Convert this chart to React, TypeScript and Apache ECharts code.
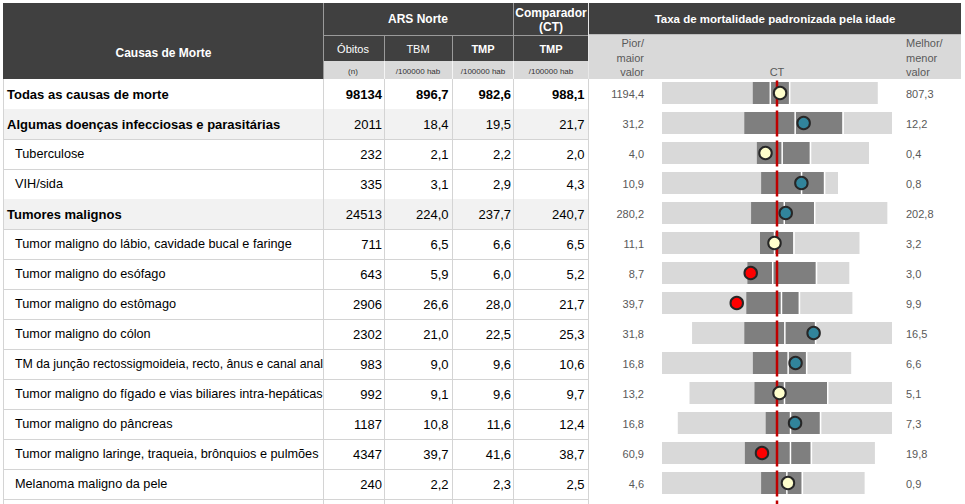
import React, { useEffect, useRef } from "react";
import * as echarts from "echarts";

// ---------- data ----------
const causes = [
  "Todas as causas de morte",
  "Algumas doenças infecciosas e parasitárias",
  "Tuberculose",
  "VIH/sida",
  "Tumores malignos",
  "Tumor maligno do lábio, cavidade bucal e faringe",
  "Tumor maligno do esófago",
  "Tumor maligno do estômago",
  "Tumor maligno do cólon",
  "TM da junção rectossigmoideia, recto, ânus e canal anal",
  "Tumor maligno do fígado e vias biliares intra-hepáticas",
  "Tumor maligno do pâncreas",
  "Tumor maligno laringe, traqueia, brônquios e pulmões",
  "Melanoma maligno da pele",
];
// 0 = total, 1 = group, 2 = sub-cause
const levels = [0, 1, 2, 2, 1, 2, 2, 2, 2, 2, 2, 2, 2, 2];
const deaths = [98134, 2011, 232, 335, 24513, 711, 643, 2906, 2302, 983, 992, 1187, 4347, 240];
const tbm = [896.7, 18.4, 2.1, 3.1, 224.0, 6.5, 5.9, 26.6, 21.0, 9.0, 9.1, 10.8, 39.7, 2.2];
const tmp = [982.6, 19.5, 2.2, 2.9, 237.7, 6.6, 6.0, 28.0, 22.5, 9.6, 9.6, 11.6, 41.6, 2.3];
const tmpCT = [988.1, 21.7, 2.0, 4.3, 240.7, 6.5, 5.2, 21.7, 25.3, 10.6, 9.7, 12.4, 38.7, 2.5];
const worst = [1194.4, 31.2, 4.0, 10.9, 280.2, 11.1, 8.7, 39.7, 31.8, 16.8, 13.2, 16.8, 60.9, 4.6];
const best = [807.3, 12.2, 0.4, 0.8, 202.8, 3.2, 3.0, 9.9, 16.5, 6.6, 5.1, 7.3, 19.8, 0.9];
const q25 = [1031.5, 24.4, 2.35, 5.21, 249.6, 7.18, 6.1, 26.5, 27.8, 11.9, 10.6, 12.9, 44.9, 2.79];
const median = [1000.1, 20.2, 1.91, 2.89, 238.2, 6.6, 5.33, 21.0, 24.7, 10.0, 9.4, 11.8, 36.1, 2.32];
const q75 = [966.7, 16.3, 1.43, 1.61, 228.0, 5.85, 4.02, 18.3, 22.4, 9.04, 7.7, 10.5, 32.2, 2.05];
// "=" no difference, "+" better, "-" worse
const significance = ["=", "+", "=", "+", "+", "=", "-", "-", "+", "+", "=", "+", "-", "="];

const sigColors: Record<string, string> = { "=": "#ffffcc", "+": "#31849b", "-": "#ff0000" };

const FONT = '"Liberation Sans", Arial, Helvetica, sans-serif';
const fmt1 = (v: number) => v.toFixed(1).replace(".", ",");
const NROWS = causes.length;

function norm(i: number, v: number) {
  const s = Math.max(worst[i] - tmpCT[i], tmpCT[i] - best[i]);
  return (tmpCT[i] - v) / s;
}

let measureCtx: CanvasRenderingContext2D | null = null;
function measure(t: string, font: string) {
  if (!measureCtx) measureCtx = document.createElement("canvas").getContext("2d");
  if (!measureCtx) return 0;
  measureCtx.font = font;
  return measureCtx.measureText(t).width;
}

function txt(x: number, y: number, t: string, font: string, align: string, fill: string, scaleX = 1) {
  return {
    type: "text",
    x,
    y,
    scaleX,
    silent: true,
    style: {
      text: t,
      font,
      fill,
      align,
      verticalAlign: "middle",
      textAlign: align,
      textVerticalAlign: "middle",
    },
  };
}
function ln(x1: number, y1: number, x2: number, y2: number, stroke: string, w = 1) {
  return { type: "line", silent: true, shape: { x1, y1, x2, y2 }, style: { stroke, lineWidth: w } };
}
function rc(x: number, y: number, width: number, height: number, fill: string) {
  return { type: "rect", silent: true, shape: { x, y, width, height }, style: { fill } };
}

const DARK = "#404040";
const LIGHT = "#d9d9d9";
const HDR_LINE = "#9a9a9a";
const GRAYTXT = "#595959";

function headerGraphics() {
  const els: any[] = [];
  els.push(rc(3, 3, 320.5, 76, DARK));
  els.push(rc(323.5, 3, 265, 58, DARK));
  els.push(rc(323.5, 61, 265, 18, LIGHT));
  els.push(rc(589, 3, 372, 31.5, DARK));
  els.push(rc(589, 34.5, 372, 44.5, LIGHT));
  // separators
  els.push(ln(323.5, 3, 323.5, 79, HDR_LINE));
  els.push(ln(323.5, 35.5, 588.5, 35.5, HDR_LINE));
  els.push(ln(513.5, 3, 513.5, 61, HDR_LINE));
  els.push(ln(384.5, 35.5, 384.5, 61, HDR_LINE));
  els.push(ln(452.5, 35.5, 452.5, 61, HDR_LINE));
  els.push(ln(384.5, 61, 384.5, 79, "#f4f4f4"));
  els.push(ln(452.5, 61, 452.5, 79, "#f4f4f4"));
  els.push(ln(513.5, 61, 513.5, 79, "#f4f4f4"));
  els.push(ln(588.5, 3, 588.5, 79, "#e8e8e8"));
  // texts
  els.push(txt(163.5, 53, "Causas de Morte", `bold 12px ${FONT}`, "center", "#fff"));
  els.push(txt(418, 18.5, "ARS Norte", `bold 12px ${FONT}`, "center", "#fff"));
  els.push(txt(551, 12.5, "Comparador", `bold 12px ${FONT}`, "center", "#fff"));
  els.push(txt(551, 26.5, "(CT)", `bold 12px ${FONT}`, "center", "#fff"));
  els.push(txt(353, 48.5, "Óbitos", `11px ${FONT}`, "center", "#fff"));
  els.push(txt(418, 48.5, "TBM", `11px ${FONT}`, "center", "#fff"));
  els.push(txt(483, 48.5, "TMP", `bold 11px ${FONT}`, "center", "#fff"));
  els.push(txt(551, 48.5, "TMP", `bold 11px ${FONT}`, "center", "#fff"));
  els.push(txt(353, 71, "(n)", `8px ${FONT}`, "center", "#333"));
  els.push(txt(418, 71, "/100000 hab", `8px ${FONT}`, "center", "#333"));
  els.push(txt(483, 71, "/100000 hab", `8px ${FONT}`, "center", "#333"));
  els.push(txt(551, 71, "/100000 hab", `8px ${FONT}`, "center", "#333"));
  els.push(txt(775, 18.5, "Taxa de mortalidade padronizada pela idade", `bold 11.5px ${FONT}`, "center", "#fff"));
  els.push(txt(644, 43, "Pior/", `11px ${FONT}`, "right", GRAYTXT));
  els.push(txt(644, 57.5, "maior", `11px ${FONT}`, "right", GRAYTXT));
  els.push(txt(644, 72, "valor", `11px ${FONT}`, "right", GRAYTXT));
  els.push(txt(777, 72, "CT", `11px ${FONT}`, "center", GRAYTXT));
  els.push(txt(906, 43, "Melhor/", `11px ${FONT}`, "left", GRAYTXT));
  els.push(txt(906, 57.5, "menor", `11px ${FONT}`, "left", GRAYTXT));
  els.push(txt(906, 72, "valor", `11px ${FONT}`, "left", GRAYTXT));
  return els;
}

const COL_LINES = [3.5, 323.5, 384.5, 452.5, 513.5, 588.5];

export default function App() {
  const ref = useRef<HTMLDivElement>(null);
  useEffect(() => {
    if (!ref.current) return;
    const chart = echarts.init(ref.current, undefined, { renderer: "svg" });
    const option: any = {
      animation: false,
      backgroundColor: "#ffffff",
      grid: { left: 662, width: 230, top: 79, height: NROWS * 30 },
      xAxis: { type: "value", min: -1, max: 1, show: false },
      yAxis: { type: "value", min: 0, max: NROWS, inverse: true, show: false },
      graphic: { elements: headerGraphics() },
      series: [
        {
          type: "custom",
          name: "table",
          z: 1,
          silent: true,
          clip: false,
          data: causes.map((_, i) => [0, i]),
          renderItem: (params: any, api: any) => {
            const i = params.dataIndex;
            const top = api.coord([0, i])[1];
            const bot = api.coord([0, i + 1])[1];
            const cy = (top + bot) / 2;
            const lv = levels[i];
            const ch: any[] = [];
            if (lv === 1) ch.push(rc(3.5, top, 585, bot - top, "#f2f2f2"));
            ch.push(ln(3, bot + 0.5, 589, bot + 0.5, "#d4d4d4"));
            const extra = i === NROWS - 1 ? 30 : 0;
            for (const x of COL_LINES) ch.push(ln(x, top, x, bot + 1 + extra, "#d4d4d4"));
            const nameFont = lv === 2 ? `12.7px ${FONT}` : `bold 13px ${FONT}`;
            const nx = lv === 2 ? 15 : 7;
            const maxW = 323 - nx;
            const w = measure(causes[i], nameFont);
            const sx = w > maxW ? maxW / w : 1;
            ch.push(txt(nx, cy, causes[i], nameFont, "left", "#000", sx));
            const numFont = lv === 0 ? `bold 13px ${FONT}` : `13px ${FONT}`;
            ch.push(txt(382, cy, String(deaths[i]), numFont, "right", "#000"));
            ch.push(txt(448.5, cy, fmt1(tbm[i]), numFont, "right", "#000"));
            ch.push(txt(511, cy, fmt1(tmp[i]), numFont, "right", "#000"));
            ch.push(txt(584.5, cy, fmt1(tmpCT[i]), numFont, "right", "#000"));
            ch.push(txt(644, cy, fmt1(worst[i]), `11px ${FONT}`, "right", GRAYTXT));
            ch.push(txt(906, cy, fmt1(best[i]), `11px ${FONT}`, "left", GRAYTXT));
            return { type: "group", children: ch };
          },
        },
        {
          type: "custom",
          name: "spine",
          z: 2,
          silent: true,
          clip: false,
          data: causes.map((_, i) => [norm(i, tmp[i]), i + 0.5]),
          renderItem: (params: any, api: any) => {
            const i = params.dataIndex;
            const cy = api.coord([0, i + 0.5])[1] - 1;
            const h = 22;
            const y0 = cy - h / 2;
            const xw = api.coord([norm(i, worst[i]), 0])[0];
            const xb = api.coord([norm(i, best[i]), 0])[0];
            const x1 = api.coord([norm(i, q25[i]), 0])[0];
            const x2 = api.coord([norm(i, q75[i]), 0])[0];
            const xm = api.coord([norm(i, median[i]), 0])[0];
            return {
              type: "group",
              children: [
                rc(xw, y0, xb - xw, h, "#d9d9d9"),
                rc(x1, y0, x2 - x1, h, "#7f7f7f"),
                rc(xm - 0.75, y0, 1.5, h, "#ffffff"),
                rc(x2, y0, 1.5, h, "#ffffff"),
              ],
            };
          },
        },
        {
          type: "custom",
          name: "CT",
          z: 3,
          silent: true,
          clip: false,
          data: [[0, 0]],
          renderItem: (params: any, api: any) => {
            const ch: any[] = [];
            for (let r = 0; r <= NROWS; r++) {
              const p0 = api.coord([0, r]);
              ch.push(ln(p0[0], p0[1] + 1.5, p0[0], p0[1] + 27.5, "#c00000", 2.5));
            }
            return { type: "group", children: ch };
          },
        },
        {
          type: "scatter",
          name: "TMP",
          z: 4,
          silent: true,
          symbol: "circle",
          symbolSize: 12.5,
          symbolOffset: [0, -1],
          itemStyle: { borderColor: "#262626", borderWidth: 2, opacity: 1 },
          data: causes.map((_, i) => ({
            value: [norm(i, tmp[i]), i + 0.5],
            itemStyle: { color: sigColors[significance[i]] },
          })),
        },
      ],
    };
    chart.setOption(option);
    return () => chart.dispose();
  }, []);
  return <div ref={ref} style={{ position: "absolute", left: 0, top: 0, width: 965, height: 504 }} />;
}
